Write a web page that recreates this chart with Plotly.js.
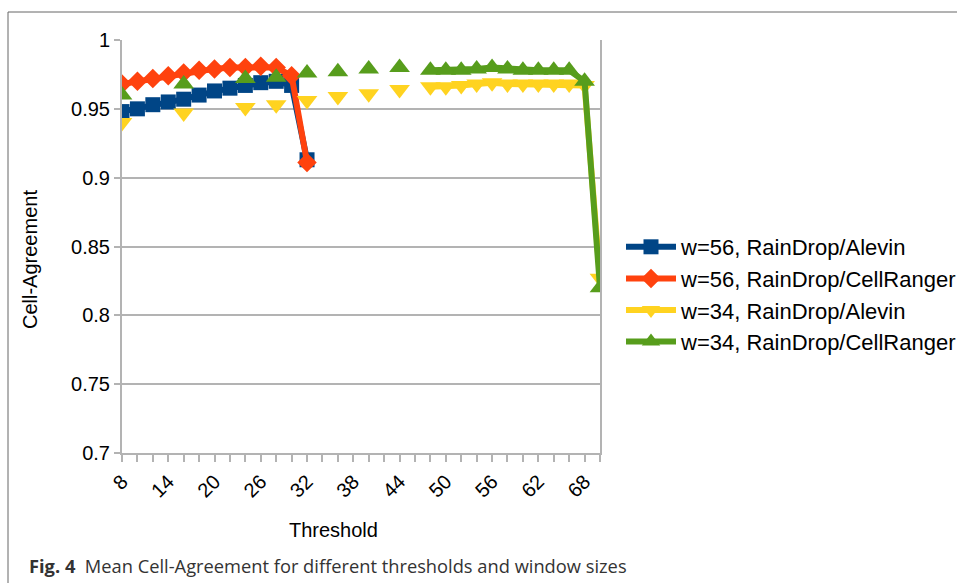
<!DOCTYPE html>
<html>
<head>
<meta charset="utf-8">
<script src="https://cdn.plot.ly/plotly-3.0.1.min.js"></script>
<style>
html,body{margin:0;padding:0;background:#fff;}
#chart{width:957px;height:583px;}
</style>
</head>
<body>
<div id="chart"></div>
<script>
// Threshold categories (every 2 units)
var thresholds = [8,10,12,14,16,18,20,22,24,26,28,30,32,34,36,38,40,42,44,46,48,50,52,54,56,58,60,62,64,66,68,70];
var tickValues = [8,14,20,26,32,38,44,50,56,62,68];
var yTickValues = [0.7,0.75,0.8,0.85,0.9,0.95,1];
var yTickLabels = ["0.7","0.75","0.8","0.85","0.9","0.95","1"];

var seriesNames = ["w=56, RainDrop/Alevin","w=56, RainDrop/CellRanger","w=34, RainDrop/Alevin","w=34, RainDrop/CellRanger"];

var w56Alevin = [0.948,0.950,0.953,0.955,0.957,0.960,0.963,0.965,0.967,0.969,0.970,0.967,0.913,
  null,null,null,null,null,null,null,null,null,null,null,null,null,null,null,null,null,null,null];
var w56CellRanger = [0.968,0.970,0.972,0.974,0.976,0.978,0.979,0.980,0.980,0.981,0.980,0.974,0.911,
  null,null,null,null,null,null,null,null,null,null,null,null,null,null,null,null,null,null,null];
var w34Alevin = [0.940,null,null,null,0.947,null,null,null,0.951,null,0.953,null,0.956,null,0.959,null,0.961,null,0.964,null,
  0.966,0.966,0.967,0.968,0.969,0.968,0.968,0.968,0.968,0.968,0.967,0.827];
var w34CellRanger = [0.960,null,null,null,0.968,null,null,null,0.972,null,0.973,null,0.976,null,0.977,null,0.979,null,0.980,null,
  0.978,0.978,0.978,0.979,0.980,0.979,0.978,0.978,0.978,0.978,0.970,0.820];

var colors = ["#004586","#ff420e","#ffd320","#579d1c"];
var symbols = ["square","diamond","triangle-down","triangle-up"];
var sizes = [15,15,18,18];
var allSeries = [w56Alevin,w56CellRanger,w34Alevin,w34CellRanger];

var traces = allSeries.map(function(vals,i){
  return {
    x: thresholds, y: vals, name: seriesNames[i],
    type: "scatter", mode: "lines+markers", connectgaps: false,
    line: {color: colors[i], width: 6},
    marker: {color: colors[i], symbol: symbols[i], size: sizes[i]}
  };
});

var F = "Liberation Sans, Arial, sans-serif";
var L = 122, R = 600, T = 40, B = 453;
function px(x){ return (x - L)/(R - L); }
function py(y){ return (B - y)/(B - T); }

var layout = {
  width: 957, height: 583,
  margin: {l: L, r: 957 - R, t: T, b: 583 - B, autoexpand: false},
  paper_bgcolor: "#fff", plot_bgcolor: "#fff",
  font: {family: F, size: 20, color: "#000"},
  showlegend: true,
  legend: {x: px(621), y: py(226), xanchor: "left", yanchor: "top",
    font: {family: F, size: 22, color: "#000"}, itemwidth: 50, bgcolor: "rgba(0,0,0,0)"},
  xaxis: {
    range: [8, 70], tickmode: "array", tickvals: tickValues,
    tickangle: -45, ticks: "outside", ticklen: 7, tickcolor: "#b3b3b3", tickwidth: 2,
    minor: {dtick: 2, tick0: 8, ticks: "outside", ticklen: 7, tickcolor: "#b3b3b3", tickwidth: 2, showgrid: false},
    showgrid: false, zeroline: false, showline: true, linecolor: "#b3b3b3", linewidth: 2,
    tickfont: {family: F, size: 20, color: "#000"}
  },
  yaxis: {
    range: [0.7, 1], tickmode: "array", tickvals: yTickValues, ticktext: yTickLabels,
    ticks: "outside", ticklen: 6, tickcolor: "#b3b3b3", tickwidth: 2,
    showgrid: true, gridcolor: "#b3b3b3", gridwidth: 2,
    zeroline: false, showline: true, mirror: true, linecolor: "#b3b3b3", linewidth: 2,
    tickfont: {family: F, size: 20, color: "#000"}
  },
  shapes: [
    {type: "line", xref: "paper", yref: "paper", x0: px(8), x1: px(8), y0: py(12), y1: py(600), line: {color: "#666", width: 1}},
    {type: "line", xref: "paper", yref: "paper", x0: px(8), x1: px(970), y0: py(12), y1: py(12), line: {color: "#666", width: 1}}
  ],
  annotations: [
    {text: "Cell-Agreement", xref: "paper", yref: "paper", x: px(30), y: py(260), textangle: -90,
     showarrow: false, xanchor: "center", yanchor: "middle", font: {family: F, size: 20, color: "#000"}},
    {text: "Threshold", xref: "paper", yref: "paper", x: px(333), y: py(530),
     showarrow: false, xanchor: "center", yanchor: "middle", font: {family: F, size: 20, color: "#000"}},
    {text: "<b>Fig. 4</b>  Mean Cell-Agreement for different thresholds and window sizes", xref: "paper", yref: "paper",
     x: px(27), y: py(565), showarrow: false, xanchor: "left", yanchor: "middle",
     font: {family: "Open Sans, sans-serif", size: 18.3, color: "#333"}}
  ]
};

Plotly.newPlot("chart", traces, layout, {displayModeBar: false, staticPlot: true});
</script>
</body>
</html>
